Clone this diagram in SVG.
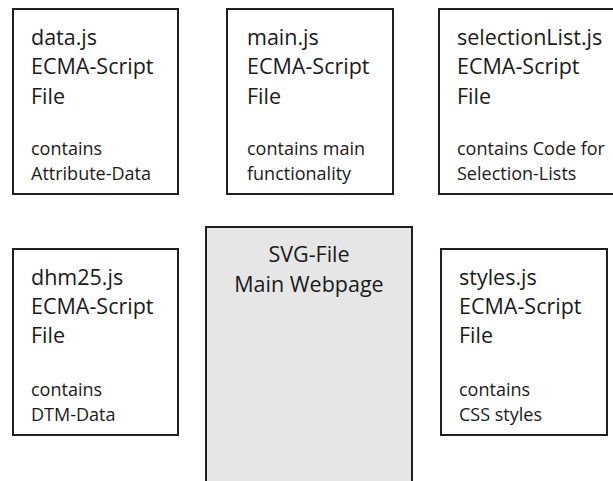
<svg xmlns="http://www.w3.org/2000/svg" width="613" height="481" viewBox="0 0 613 481">
<style>
.box{fill:#ffffff;stroke:#231f20;stroke-width:2}
.main{fill:#e6e6e6;stroke:#231f20;stroke-width:2}
.t{font-family:"Open Sans","Liberation Sans",sans-serif;font-size:21.5px;fill:#1a1a1a}
.s{font-family:"Open Sans","Liberation Sans",sans-serif;font-size:18px;fill:#1a1a1a}
.c{text-anchor:middle}
</style>
<rect width="613" height="481" fill="#ffffff"/>
<g id="connectors"></g>
<g id="data">
<rect class="box" x="13" y="9" width="165" height="185"/>
<text class="t" x="31" y="45">data.js</text>
<text class="t" x="31" y="74">ECMA-Script</text>
<text class="t" x="31" y="104">File</text>
<text class="s" x="31" y="155">contains</text>
<text class="s" x="31" y="180">Attribute-Data</text>
</g>
<g id="main">
<rect class="box" x="227" y="9" width="166" height="185"/>
<text class="t" x="247" y="45">main.js</text>
<text class="t" x="247" y="74">ECMA-Script</text>
<text class="t" x="247" y="104">File</text>
<text class="s" x="247" y="155">contains main</text>
<text class="s" x="247" y="180">functionality</text>
</g>
<g id="selectionList">
<rect class="box" x="439" y="9" width="185" height="185"/>
<text class="t" x="457" y="45">selectionList.js</text>
<text class="t" x="457" y="74">ECMA-Script</text>
<text class="t" x="457" y="104">File</text>
<text class="s" x="457" y="155">contains Code for</text>
<text class="s" x="457" y="180">Selection-Lists</text>
</g>
<g id="svgfile">
<rect class="main" x="206" y="227" width="206" height="270"/>
<text class="t c" x="309" y="262">SVG-File</text>
<text class="t c" x="309" y="292">Main Webpage</text>
</g>
<g id="dhm25">
<rect class="box" x="13" y="249" width="165" height="186"/>
<text class="t" x="31" y="285">dhm25.js</text>
<text class="t" x="31" y="314">ECMA-Script</text>
<text class="t" x="31" y="343">File</text>
<text class="s" x="31" y="396">contains</text>
<text class="s" x="31" y="421">DTM-Data</text>
</g>
<g id="styles">
<rect class="box" x="441" y="249" width="166" height="186"/>
<text class="t" x="459" y="285">styles.js</text>
<text class="t" x="459" y="314">ECMA-Script</text>
<text class="t" x="459" y="343">File</text>
<text class="s" x="459" y="396">contains</text>
<text class="s" x="459" y="421">CSS styles</text>
</g>
</svg>
